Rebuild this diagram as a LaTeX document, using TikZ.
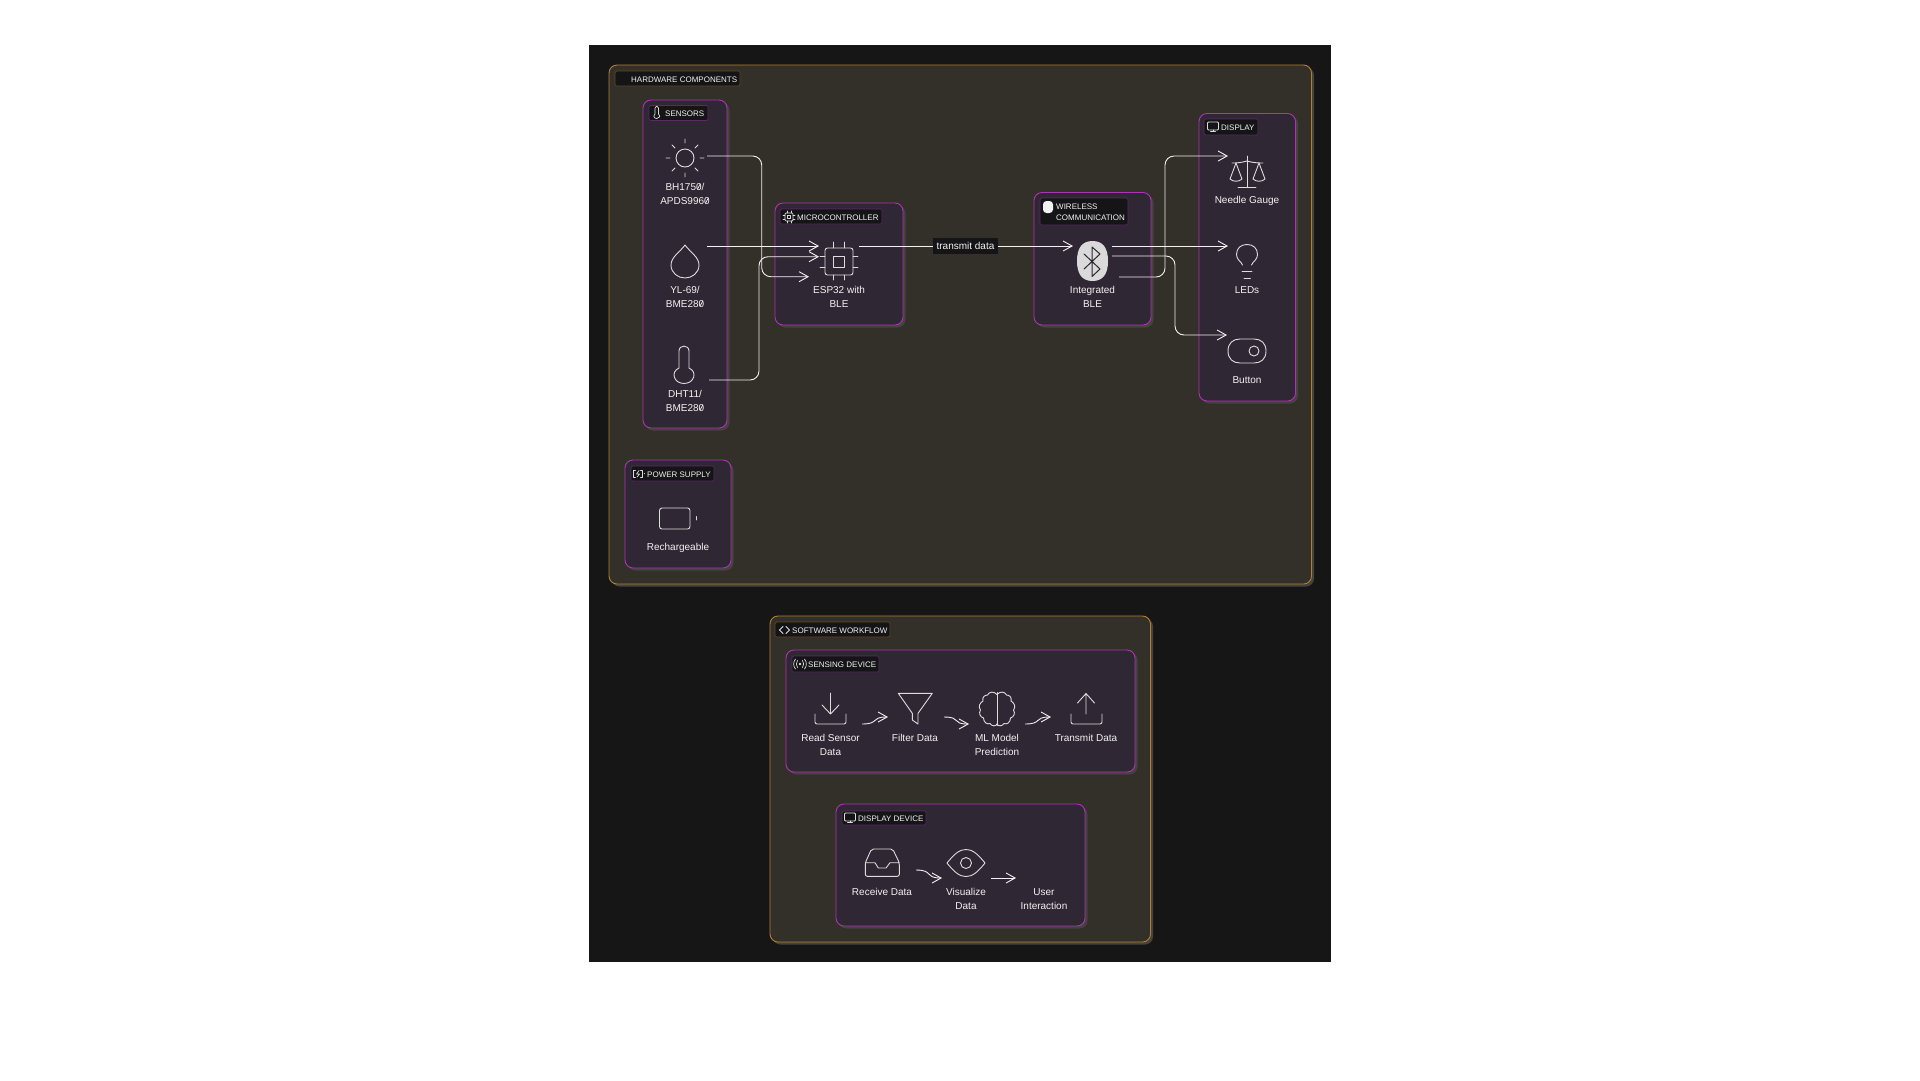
\documentclass[tikz,border=0pt]{standalone}
\usepackage{fontspec}
\setmainfont{Liberation Sans}
\usetikzlibrary{arrows.meta}
\definecolor{pagebg}{HTML}{161616}
\definecolor{hwfill}{HTML}{332F29}
\definecolor{subfill}{HTML}{2F2733}
\definecolor{amberline}{HTML}{B08030}
\definecolor{purpleline}{HTML}{B032B8}
\definecolor{shadowc}{HTML}{45433F}
\definecolor{tagfill}{HTML}{151416}
\definecolor{tagpurple}{HTML}{5A2A66}
\definecolor{tagamber}{HTML}{5F4A26}
\definecolor{inkc}{HTML}{F2F2F2}
\definecolor{iconc}{HTML}{DDDDDD}
\newcommand\zs{\rlap{\kern.1em\raisebox{.34em}{\rotatebox[origin=c]{62}{\rule{.62em}{.07em}}}}0}
\tikzset{
  x=1pt,y=-1pt,
  outerbox/.style={draw=amberline,fill=hwfill,line width=.9pt,rounded corners=8pt,inner sep=0pt,outer sep=0pt},
  innerbox/.style={draw=purpleline,fill=subfill,line width=.9pt,rounded corners=8pt,inner sep=0pt,outer sep=0pt},
  tagbox/.style={draw=tagpurple,fill=tagfill,line width=.7pt,rounded corners=1.5pt,inner sep=0pt,outer sep=0pt},
  tagboxa/.style={draw=tagamber,fill=tagfill,line width=.7pt,rounded corners=1.5pt,inner sep=0pt,outer sep=0pt},
  tagtext/.style={text=inkc,font=\fontsize{8}{11}\selectfont,inner sep=0pt,anchor=west,align=left,yshift=-.7pt},
  body/.style={text=inkc,font=\fontsize{10}{14}\selectfont,inner sep=0pt,align=center,yshift=-.7pt},
  icon/.style={draw=iconc,line width=.9pt,line cap=round,line join=round},
  flow/.style={draw=inkc,line width=.9pt,rounded corners=9pt,-{Straight Barb[length=9pt,width=10pt,line width=.9pt]}},
  plain/.style={draw=inkc,line width=.9pt,rounded corners=9pt},
  edgelabel/.style={fill=tagfill,text=inkc,font=\fontsize{10}{12}\selectfont,inner sep=0pt,minimum width=65pt,minimum height=16pt},
}
\newcommand\panel[6]{%
  \fill[shadowc,rounded corners=8pt] ({#2+2.5},{#3+2.5}) rectangle ({#4+2.5},{#5+2.5});
  \node[#6,minimum width={#4-#2},minimum height={#5-#3}] (#1) at ({(#2+#4)/2},{(#3+#5)/2}) {};
}
\newcommand\tagrect[6]{%
  \node[#6,minimum width={#4-#2},minimum height={#5-#3}] (#1) at ({(#2+#4)/2},{(#3+#5)/2}) {};
}
\newcommand\monitor[2]{% x,y top-left
  \begin{scope}[shift={(#1,#2)}]
    \draw[icon,rounded corners=1pt] (0,0) rectangle (11,8);
    \draw[icon] (5.5,8) -- (5.5,9.5) (3,9.8) -- (8,9.8);
  \end{scope}
}
\begin{document}
\begin{tikzpicture}
\useasboundingbox (0,0) rectangle (1920,1080);
\fill[white] (0,0) rectangle (1920,1080);
\fill[pagebg] (589,45) rectangle (1331,962);

% ---- outer panels
\panel{hw}{609}{65}{1311.5}{584}{outerbox}
\panel{sw}{770}{616}{1150.5}{942}{outerbox}
% ---- inner panels
\panel{sensors}{643}{100}{727}{428}{innerbox}
\panel{micro}{775}{203}{903}{325}{innerbox}
\panel{wireless}{1034}{192.5}{1151}{325}{innerbox}
\panel{display}{1199}{113.5}{1295.5}{401}{innerbox}
\panel{power}{625}{460}{731}{568}{innerbox}
\panel{sensing}{786}{650}{1135}{772}{innerbox}
\panel{dispdev}{836}{804}{1085}{926}{innerbox}

% ---- connector ends
\coordinate (sunout) at (707,156);
\coordinate (dropout) at (707,246);
\coordinate (thermout) at (709,380);
\coordinate (chipinA) at (819,246);
\coordinate (chipinB) at (819,256.7);
\coordinate (chipinC) at (809,276.7);
\coordinate (chipout) at (859,246);
\coordinate (blein) at (1073,246);
\coordinate (bleoutA) at (1112,246);
\coordinate (bleoutB) at (1112,256);
\coordinate (bleoutC) at (1119,277);
\coordinate (gaugein) at (1228,156);
\coordinate (ledin) at (1228,246);
\coordinate (btnin) at (1227,335);
\coordinate (sqAa) at (862,724); \coordinate (sqAb) at (888,717);
\coordinate (sqBa) at (944,717); \coordinate (sqBb) at (969,724);
\coordinate (sqCa) at (1025,724); \coordinate (sqCb) at (1051,717);
\coordinate (sqDa) at (916,870); \coordinate (sqDb) at (942,878);
\coordinate (sqEa) at (991,878); \coordinate (sqEb) at (1016,878);

% ---- connectors
\draw[flow] (sunout) -| (761.7,216) |- (chipinC);
\draw[flow] (dropout) -- (chipinA);
\draw[flow] (thermout) -| (759,320) |- (chipinB);
\node[edgelabel] (txlabel) at (965.5,246) {transmit data};
\draw[plain] (chipout) -- (txlabel.west);
\draw[flow] (txlabel.east) -- (blein);
\draw[flow] (bleoutA) -- (ledin);
\draw[flow] (bleoutB) -| (1175,300) |- (btnin);
\draw[flow] (bleoutC) -| (1165,220) |- (gaugein);
\draw[flow,rounded corners=0pt] (sqAa) .. controls +(18,0) and +(-18,0) .. (sqAb);
\draw[flow,rounded corners=0pt] (sqBa) .. controls +(18,0) and +(-18,0) .. (sqBb);
\draw[flow,rounded corners=0pt] (sqCa) .. controls +(18,0) and +(-18,0) .. (sqCb);
\draw[flow,rounded corners=0pt] (sqDa) .. controls +(18,0) and +(-18,0) .. (sqDb);
\draw[flow,rounded corners=0pt] (sqEa) -- (sqEb);

% ---- tags
\tagrect{taghw}{615}{71}{740}{86}{tagboxa}
\node[tagtext] (ttHw) at (631,79) {HARDWARE COMPONENTS};
\tagrect{tagsw}{775}{622}{890}{637}{tagboxa}
\node[tagtext] (ttSw) at (792,630) {SOFTWARE WORKFLOW};
\tagrect{tagsens}{649}{105.5}{708}{120.5}{tagbox}
\node[tagtext] (ttSens) at (665,113) {SENSORS};
\tagrect{tagmicro}{780}{209}{882}{224}{tagbox}
\node[tagtext] (ttMicro) at (797,217) {MICROCONTROLLER};
\tagrect{tagwire}{1040}{198}{1128}{225}{tagbox}
\node[tagtext,text width=70pt,anchor=north west,font=\fontsize{8}{11}\selectfont] (ttWire) at (1056,203) {WIRELESS\\COMMUNICATION};
\tagrect{tagdisp}{1204}{119}{1258}{135}{tagbox}
\node[tagtext] (ttDisp) at (1221,127) {DISPLAY};
\tagrect{tagpow}{631}{466}{714}{481}{tagbox}
\node[tagtext] (ttPow) at (647,474) {POWER SUPPLY};
\tagrect{tagsensing}{792}{656}{879}{672}{tagbox}
\node[tagtext] (ttSensing) at (808,664) {SENSING DEVICE};
\tagrect{tagdd}{842}{811}{926}{825}{tagbox}
\node[tagtext] (ttDd) at (858,818) {DISPLAY DEVICE};

% ---- tag icons
% thermometer small
\draw[icon,line width=.7pt] (655,114) -- (655,108) .. controls (655,105.5) and (658.5,105.5) .. (658.5,108) -- (658.5,114) .. controls (660.5,116) and (659.5,118.5) .. (656.8,118.5) .. controls (654,118.5) and (653,116) .. cycle;
% chip small
\draw[icon,line width=.7pt,rounded corners=1pt] (785,213) rectangle (793,221);
\draw[icon,line width=.7pt] (787.5,215.5) rectangle (790.5,218.5);
\draw[icon,line width=.6pt] (787,211) -- (787,213) (791,211) -- (791,213) (787,221) -- (787,223) (791,221) -- (791,223)
  (783,215) -- (785,215) (783,219) -- (785,219) (793,215) -- (795,215) (793,219) -- (795,219);
% wireless blob
\fill[inkc,rounded corners=3.5pt] (1043,201) rectangle (1053,213);
% monitors
\monitor{1207.5}{122}
\monitor{844.5}{813}
% power icon
\draw[icon,line width=.7pt] (635.5,470) -- (633.5,470) -- (633.5,477) -- (635.5,477) (640.5,470) -- (642.5,470) -- (642.5,477) -- (640.5,477);
\draw[icon,line width=.7pt] (639,470.5) -- (636.5,474) -- (639.5,474) -- (637,477);
\fill[inkc] (644.5,473.5) circle[radius=.5];
% code icon
\draw[icon] (783,626.5) -- (779.5,630) -- (783,633.5) (786,626.5) -- (789.5,630) -- (786,633.5);
% sensing icon
\fill[iconc] (800,664) circle[radius=1.3];
\draw[icon,line width=.7pt] (797.5,660.5) .. controls (796,662.5) and (796,665.5) .. (797.5,667.5) (802.5,660.5) .. controls (804,662.5) and (804,665.5) .. (802.5,667.5)
  (795.5,659) .. controls (793,662) and (793,666) .. (795.5,669) (804.5,659) .. controls (807,662) and (807,666) .. (804.5,669);

% ---- sun
\draw[icon] (685,158) circle[radius=9];
\draw[icon] (685,139) -- (685,143) (685,173) -- (685,177) (666,158) -- (670,158) (700,158) -- (704,158)
  (672,145) -- (675,148) (698,145) -- (695,148) (672,171) -- (675,168) (698,171) -- (695,168);
\node[body] (nSun) at (685,193) {BH175\zs/\\APDS996\zs};
% ---- drop
\draw[icon] (685,245) .. controls (680,252) and (671,257) .. (671,265) .. controls (671,273) and (678,278) .. (685,278) .. controls (692,278) and (699,273) .. (699,265) .. controls (699,257) and (690,252) .. cycle;
\node[body] (nDrop) at (685,296) {YL-69/\\BME28\zs};
% ---- thermometer
\draw[icon] (679,368) -- (679,351) .. controls (679,344.5) and (689,344.5) .. (689,351) -- (689,368) .. controls (698,372) and (694,383.5) .. (684,383.5) .. controls (674,383.5) and (670,372) .. cycle;
\node[body] (nTherm) at (685,400) {DHT11/\\BME28\zs};
% ---- chip
\draw[icon,rounded corners=2.5pt] (825,248) rectangle (853,275);
\draw[icon] (833.5,256) rectangle (844.5,267);
\draw[icon] (833.5,242) -- (833.5,248) (844,242) -- (844,248) (833.5,275) -- (833.5,280) (844,275) -- (844,280)
  (820,256) -- (825,256) (820,267) -- (825,267) (853,256) -- (858,256) (853,267) -- (858,267);
\node[body] (nChip) at (839,296.5) {ESP32 with\\BLE};
% ---- bluetooth
\fill[inkc!90!black] (1092.5,241) .. controls (1103,241) and (1108,248) .. (1108,261) .. controls (1108,274) and (1103,281) .. (1092.5,281) .. controls (1082,281) and (1077,274) .. (1077,261) .. controls (1077,248) and (1082,241) .. cycle;
\draw[draw=subfill,line width=1pt,line join=round,line cap=round] (1084,254) -- (1100,269) -- (1092,276.5) -- (1092,247) -- (1100,254) -- (1084,269);
\node[body] (nBle) at (1092.5,296.5) {Integrated\\BLE};
% ---- scale
\draw[icon] (1247,156) -- (1247,187) (1238,187) -- (1256,187);
\draw[icon] (1232,163) .. controls (1240,163) and (1243,162) .. (1247,161) .. controls (1251,162) and (1254,163) .. (1263,163);
\draw[icon] (1236,163) -- (1230,179) .. controls (1233,182) and (1239,182) .. (1242,179) -- cycle;
\draw[icon] (1259,163) -- (1253,179) .. controls (1256,182) and (1262,182) .. (1265,179) -- cycle;
\node[body] (nGauge) at (1247,200) {Needle Gauge};
% ---- bulb
\draw[icon] (1242.5,265) .. controls (1241,261) and (1236.5,260) .. (1236.5,254.5) .. controls (1236.5,248) and (1241,244.5) .. (1247,244.5) .. controls (1253,244.5) and (1257.5,248) .. (1257.5,254.5) .. controls (1257.5,260) and (1253,261) .. (1251.5,265);
\draw[icon] (1242,271) -- (1252,271) (1244,278) -- (1250.5,278);
\node[body] (nLed) at (1247,289) {LEDs};
% ---- button
\draw[icon] (1228,351) .. controls (1228,343) and (1233,339) .. (1240,339) -- (1254,339) .. controls (1261,339) and (1266,343) .. (1266,351) .. controls (1266,359) and (1261,363) .. (1254,363) -- (1240,363) .. controls (1233,363) and (1228,359) .. cycle;
\draw[icon] (1254,351) circle[radius=5];
\node[body] (nBtn) at (1247,379) {Button};
% ---- battery
\draw[icon,rounded corners=2.5pt] (659.5,508) rectangle (690,529);
\draw[icon] (696,516.5) -- (696,520);
\node[body] (nBat) at (678,547) {Rechargeable};

% ---- sensing device icons
\draw[icon,rounded corners=2pt] (815,714) -- (815,724) -- (846,724) -- (846,714);
\draw[icon] (830.5,693) -- (830.5,714) (822,705) -- (830.5,714) -- (839,705);
\node[body] (nRead) at (830.5,744) {Read Sensor\\Data};
\draw[icon] (898.3,693.3) -- (932.3,693.3) -- (918,713.3) -- (918,724) -- (912.3,720) -- (912.3,713.3) -- cycle;
\node[body] (nFilter) at (915,737) {Filter Data};
% brain
\draw[icon] (997,692.5) -- (997,725.5);
\draw[icon] (997,694.5) .. controls (994,691) and (989,691.5) .. (987.5,695) .. controls (984,695) and (982,698) .. (983,701) .. controls (979.5,703) and (978,707) .. (980.5,710) .. controls (978.5,713) and (980,717) .. (983.5,718) .. controls (983.5,722) and (987,725) .. (990,723.5) .. controls (992,726.5) and (996,726.5) .. (997,724);
\draw[icon] (997,694.5) .. controls (1000,691) and (1005,691.5) .. (1006.5,695) .. controls (1010,695) and (1012,698) .. (1011,701) .. controls (1014.5,703) and (1016,707) .. (1013.5,710) .. controls (1015.5,713) and (1014,717) .. (1010.5,718) .. controls (1010.5,722) and (1007,725) .. (1004,723.5) .. controls (1002,726.5) and (998,726.5) .. (997,724);
\node[body] (nMl) at (997,744) {ML Model\\Prediction};
\draw[icon,rounded corners=2pt] (1071,714) -- (1071,724) -- (1102,724) -- (1102,714);
\draw[icon] (1086,714) -- (1086,693.5) (1077.5,703) -- (1086,693.5) -- (1094.5,703);
\node[body] (nTx) at (1086,737) {Transmit Data};

% ---- display device icons
\draw[icon,rounded corners=2pt] (871.5,849) -- (892.7,849) -- (899.3,862.7) -- (899.3,876.3) -- (865.3,876.3) -- (865.3,862.7) -- cycle;
\draw[icon] (865.3,862.7) -- (875,862.7) -- (878.3,868) -- (886,868) -- (890,862.7) -- (899.3,862.7);
\node[body] (nRecv) at (882,891) {Receive Data};
\draw[icon] (947,863) .. controls (955,853) and (960,849.5) .. (966,849.5) .. controls (972,849.5) and (977,853) .. (985,863) .. controls (977,873) and (972,876.5) .. (966,876.5) .. controls (960,876.5) and (955,873) .. cycle;
\draw[icon] (966,863) circle[radius=5.5];
\node[body] (nVis) at (966,898) {Visualize\\Data};
\node[body] (nUser) at (1044,898) {User\\Interaction};
\end{tikzpicture}
\end{document}
